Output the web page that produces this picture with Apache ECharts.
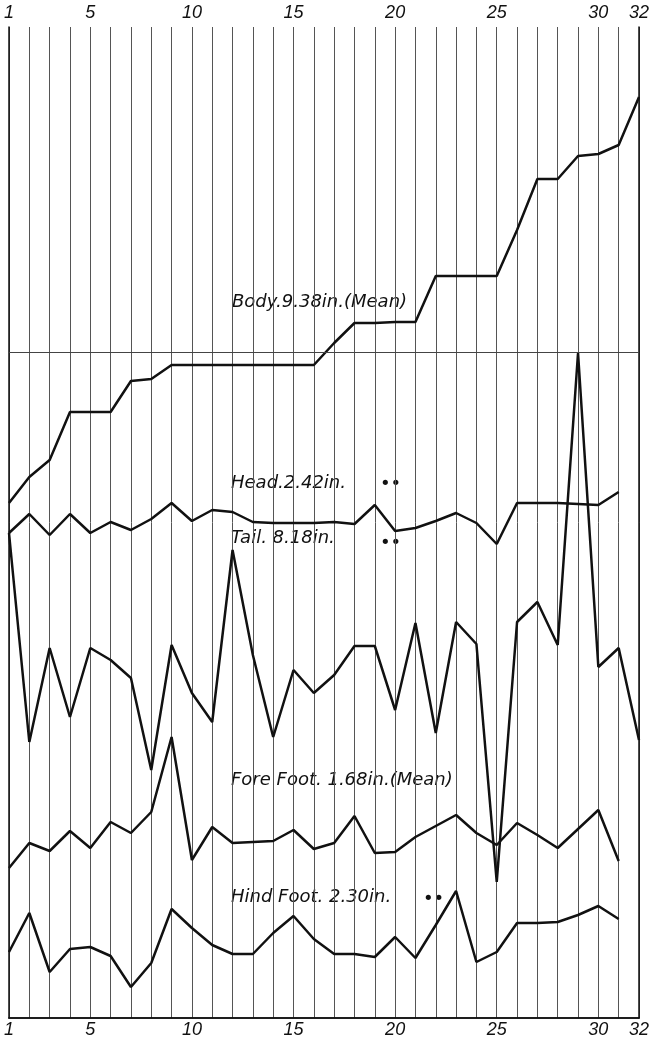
<!DOCTYPE html>
<html>
<head>
<meta charset="utf-8">
<script src="https://cdn.jsdelivr.net/npm/echarts@6/dist/echarts.min.js"></script>
<style>
html,body{margin:0;padding:0;background:#fff;}
#chart{width:655px;height:1041px;}
</style>
</head>
<body>
<div id="chart"></div>
<script>
// Specimen numbers 1..32 and the tick labels shown
const tickLabels = [1, 5, 10, 15, 20, 25, 30, 32];
// Curves (arbitrary vertical plotting units, each curve offset on the sheet)
const body = [51.5, 54.1, 55.8, 60.6, 60.6, 60.6, 63.7, 63.9, 65.3, 65.3, 65.3, 65.3, 65.3, 65.3, 65.3, 65.3,
  67.5, 69.5, 69.5, 69.6, 69.6, 74.2, 74.2, 74.2, 74.2, 78.8, 83.9, 83.9, 86.2, 86.4, 87.3, 92.1];
const head = [48.5, 50.4, 48.3, 50.4, 48.5, 49.6, 48.8, 49.9, 51.5, 49.7, 50.8, 50.6, 49.6, 49.5, 49.5, 49.5,
  49.6, 49.4, 51.3, 48.7, 49.0, 49.7, 50.5, 49.5, 47.4, 51.5, 51.5, 51.5, 51.4, 51.3, 52.6];
const tail = [48.5, 27.6, 37.0, 30.1, 37.0, 35.8, 34.0, 24.8, 37.3, 32.5, 29.6, 46.8, 36.3, 28.1, 34.8, 32.5,
  34.3, 37.2, 37.2, 30.8, 39.5, 28.5, 39.6, 37.4, 13.6, 39.6, 41.6, 37.3, 66.5, 35.1, 37.0, 27.8];
const foreFoot = [15.0, 17.5, 16.7, 18.7, 17.0, 19.6, 18.5, 20.6, 28.1, 15.8, 19.1, 17.5, 17.6, 17.7, 18.8, 16.9,
  17.5, 20.2, 16.5, 16.6, 18.1, 19.2, 20.3, 18.5, 17.3, 19.5, 18.3, 17.0, 18.9, 20.8, 15.7];
const hindFoot = [6.6, 10.5, 4.6, 6.9, 7.1, 6.2, 3.1, 5.5, 10.9, 9.0, 7.3, 6.4, 6.4, 8.5, 10.2, 7.9,
  6.4, 6.4, 6.1, 8.1, 6.0, 9.3, 12.7, 5.6, 6.6, 9.5, 9.5, 9.6, 10.3, 11.2, 9.9];
const referenceLine = 66.6;
const labels = [
  {text: 'Body.9.38in.(Mean)', x: 232, y: 300},
  {text: 'Head.2.42in.', x: 231, y: 481},
  {text: '••', x: 380, y: 482},
  {text: 'Tail. 8.18in.', x: 231, y: 536},
  {text: '••', x: 380, y: 541},
  {text: 'Fore Foot. 1.68in.(Mean)', x: 231, y: 778},
  {text: 'Hind Foot. 2.30in.', x: 231, y: 895},
  {text: '••', x: 423, y: 897}
];

const toPairs = arr => arr.map((v, i) => [i + 1, v]);
const chart = echarts.init(document.getElementById('chart'), null, {renderer: 'canvas'});

const axisLabelStyle = {
  fontFamily: 'Liberation Sans',
  fontStyle: 'italic',
  fontSize: 18,
  color: '#111',
  formatter: v => tickLabels.indexOf(v) >= 0 ? String(v) : ''
};
const lineStyle = {color: '#111', width: 2.5};
const mkSeries = (name, arr) => ({
  name, type: 'line', data: toPairs(arr), symbol: 'none', lineStyle, silent: true, animation: false
});
const borderAxis = pos => ({
  type: 'value', min: 0, max: 99.1, position: pos,
  axisLine: {show: true, lineStyle: {color: '#111', width: 1.5}},
  axisTick: {show: false}, axisLabel: {show: false}, splitLine: {show: false}
});

chart.setOption({
  animation: false,
  backgroundColor: '#fff',
  grid: {left: 9, right: 16, top: 27, bottom: 23},
  xAxis: [
    {type: 'value', position: 'bottom', min: 1, max: 32, interval: 1,
      axisLine: {show: true, lineStyle: {color: '#111', width: 1.5}},
      axisTick: {show: false},
      splitLine: {show: true, lineStyle: {color: '#555', width: 1}},
      axisLabel: Object.assign({margin: 3}, axisLabelStyle)},
    {type: 'value', position: 'top', min: 1, max: 32, interval: 1,
      axisLine: {show: true, lineStyle: {color: '#111', width: 1.5}},
      axisTick: {show: false},
      splitLine: {show: false},
      axisLabel: Object.assign({margin: 5}, axisLabelStyle)}
  ],
  yAxis: [borderAxis('left'), borderAxis('right')],
  series: [
    Object.assign(mkSeries('Body', body), {
      markLine: {silent: true, symbol: 'none', label: {show: false},
        lineStyle: {color: '#444', width: 1, type: 'solid'},
        data: [{yAxis: referenceLine}]}
    }),
    mkSeries('Head', head),
    mkSeries('Tail', tail),
    mkSeries('Fore Foot', foreFoot),
    mkSeries('Hind Foot', hindFoot),
    {type: 'line', xAxisIndex: 1, yAxisIndex: 1, data: [], symbol: 'none'}
  ],
  graphic: labels.map(l => ({
    type: 'text', left: l.x, top: l.y - 7, silent: true,
    style: {text: l.text, fill: '#111', font: 'italic 18px "DejaVu Sans"', verticalAlign: 'middle'}
  }))
});
</script>
</body>
</html>
